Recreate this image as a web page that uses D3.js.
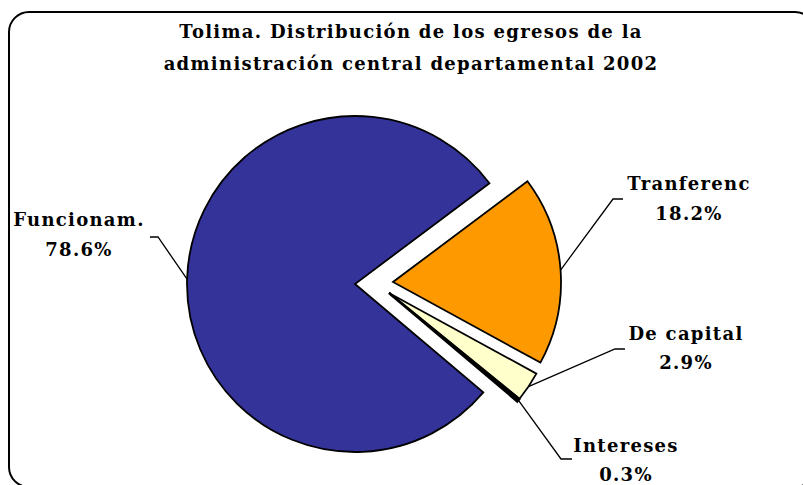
<!DOCTYPE html>
<html>
<head>
<meta charset="utf-8">
<script src="https://cdn.jsdelivr.net/npm/d3@7"></script>
<style>
  html, body { margin: 0; padding: 0; background: #fff; }
  svg { display: block; }
  text { font-family: "DejaVu Serif", "Liberation Serif", serif; font-weight: bold; fill: #000; }
</style>
</head>
<body>
<svg id="chart" width="803" height="485"></svg>
<script>
// ---- data ----
const categories = ["Funcionam.", "Tranferenc", "De capital", "Intereses"];
const values = [78.6, 18.2, 2.9, 0.3];
const valueLabels = ["78.6%", "18.2%", "2.9%", "0.3%"];
const titleLines = ["Tolima. Distribución de los egresos de la", "administración central departamental 2002"];

// ---- styles / layout ----
const colors = ["#333399", "#FF9900", "#FFFFCC", "#000000"];
const center = { x: 355, y: 284 };
const radius = 168;
const startDeg = 130.2;
const explode = [[0, 0], [38, -2], [34, 9], [34, 9]];
// label layout: elbow point, end of horizontal, text center x, baselines
const labelLayout = [
  { elbow: [158, 237], end: [150, 237], cx: 79, b1: 226, b2: 256 },
  { elbow: [613, 199], end: [623, 199], cx: 689, b1: 190, b2: 220 },
  { elbow: [615, 349], end: [625, 349], cx: 686, b1: 340, b2: 369 },
  { elbow: [561, 459], end: [572, 459], cx: 626, b1: 452, b2: 481 }
];

const svg = d3.select("#chart");

// border
svg.append("rect")
  .attr("x", 9).attr("y", 12)
  .attr("width", 806).attr("height", 475)
  .attr("rx", 20).attr("ry", 20)
  .attr("fill", "#fff").attr("stroke", "#000").attr("stroke-width", 2);

// title
svg.append("g").selectAll("text").data(titleLines).join("text")
  .attr("x", 411).attr("y", (d, i) => 38 + i * 32)
  .attr("text-anchor", "middle")
  .style("font-size", "18px")
  .style("letter-spacing", "1.3px")
  .text(d => d);

const pie = d3.pie().sort(null).value(d => d)
  .startAngle(startDeg * Math.PI / 180)
  .endAngle(startDeg * Math.PI / 180 + 2 * Math.PI);
const arcs = pie(values);
const arc = d3.arc().innerRadius(0).outerRadius(radius);

const g = svg.append("g").attr("transform", `translate(${center.x},${center.y})`);
g.selectAll("path").data(arcs).join("path")
  .attr("transform", (d, i) => `translate(${explode[i][0]},${explode[i][1]})`)
  .attr("d", arc)
  .attr("fill", (d, i) => colors[i])
  .attr("stroke", "#000")
  .attr("stroke-width", (d, i) => i === 3 ? 2.4 : 1.8)
  .attr("stroke-linejoin", "miter");

// leader lines
arcs.forEach((d, i) => {
  const mid = (d.startAngle + d.endAngle) / 2;
  const px = center.x + explode[i][0] + radius * Math.sin(mid);
  const py = center.y + explode[i][1] - radius * Math.cos(mid);
  const L = labelLayout[i];
  svg.append("polyline")
    .attr("points", [[px, py], L.elbow, L.end].map(p => p.join(",")).join(" "))
    .attr("fill", "none").attr("stroke", "#000").attr("stroke-width", 1.3);
  svg.append("text").attr("x", L.cx).attr("y", L.b1)
    .attr("text-anchor", "middle").style("font-size", "18px").style("letter-spacing", "1.3px")
    .text(categories[i]);
  svg.append("text").attr("x", L.cx).attr("y", L.b2)
    .attr("text-anchor", "middle").style("font-size", "18px").style("letter-spacing", "1.3px")
    .text(valueLabels[i]);
});
</script>
</body>
</html>
